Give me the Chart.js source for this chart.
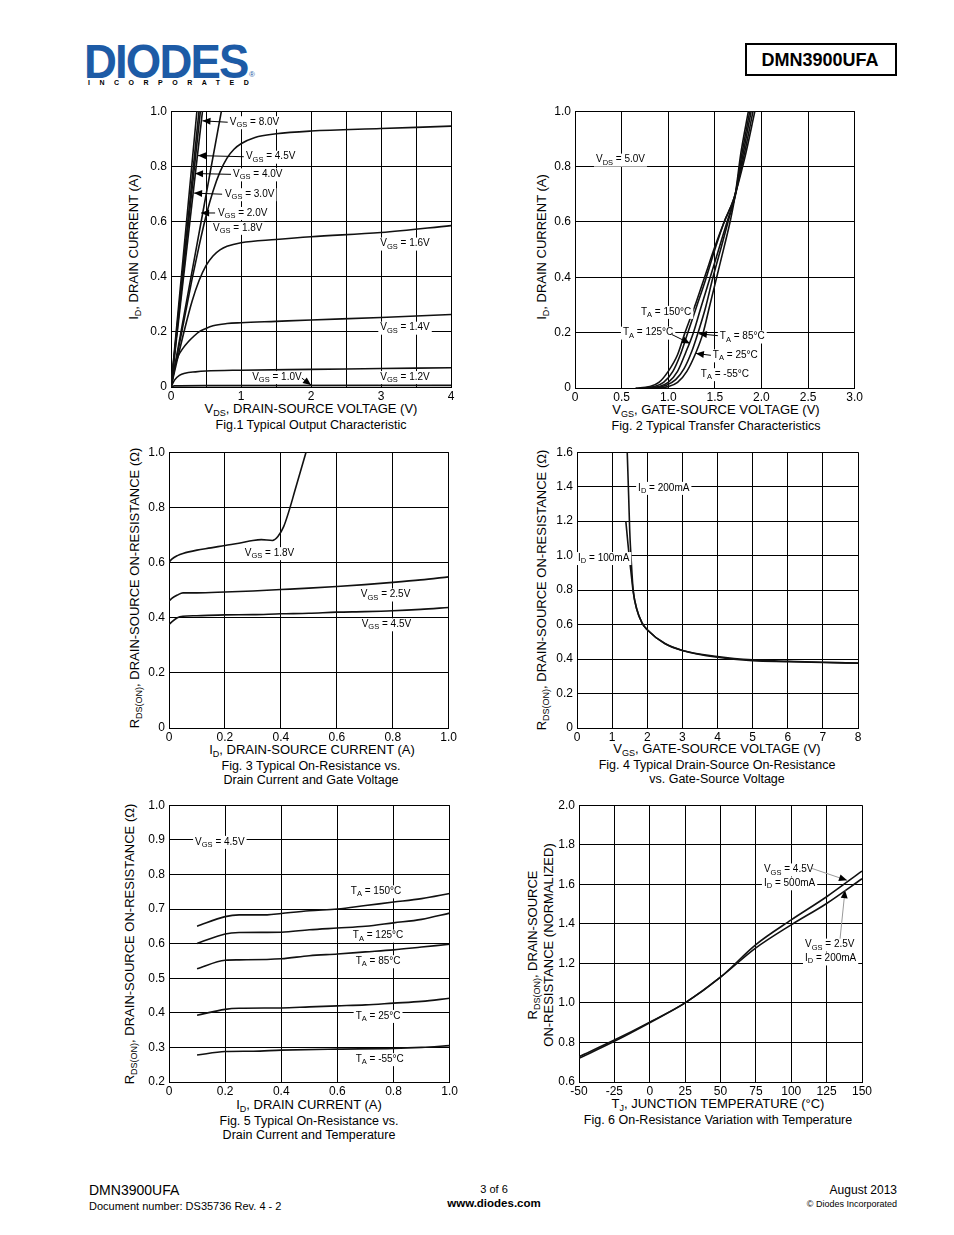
<!DOCTYPE html>
<html>
<head>
<meta charset="utf-8">
<script src="https://cdn.jsdelivr.net/npm/chart.js@4.4.1/dist/chart.umd.min.js"></script>
<style>
  body { margin: 0; background: #fff; font-family: "Liberation Sans", Arial, sans-serif; color: #000; }
  #page { position: relative; width: 954px; height: 1235px; overflow: hidden; }
  .t { position: absolute; white-space: nowrap; line-height: 1; }
  .c { transform: translate(-50%, -50%); }
  .v { transform: translate(-50%, -50%) rotate(-90deg); }
  .l { transform: translateY(-50%); }
  .r { transform: translate(-100%, -50%); }
  .axt { font-size: 13px; }
  .cap { font-size: 12.5px; }
  sub { font-size: 9px; vertical-align: -3px; line-height: 0; }
</style>
</head>
<body>
<div id="page">
  <!-- header -->
  <div class="t" style="left:84px;top:37px;font-size:49px;font-weight:bold;color:#1d5ba6;letter-spacing:-2px;transform:scaleX(0.93);transform-origin:left top;">DIODES</div>
  <div class="t" style="left:88px;top:79px;font-size:7px;font-weight:bold;letter-spacing:9.5px;">INCORPORATED</div>
  <div class="t" style="left:249px;top:71px;font-size:8px;color:#1d5ba6;">®</div>
  <div style="position:absolute;left:745px;top:43px;width:148px;height:29px;border:2px solid #000;"></div>
  <div class="t c" style="left:820px;top:60px;font-size:18px;font-weight:bold;">DMN3900UFA</div>

  <!-- axis titles and captions -->
  <div class="t v axt" style="left:133px;top:247px;">I<sub>D</sub>, DRAIN CURRENT (A)</div>
  <div class="t c axt" style="left:311px;top:408px;">V<sub>DS</sub>, DRAIN-SOURCE VOLTAGE (V)</div>
  <div class="t c cap" style="left:311px;top:425px;">Fig.1 Typical Output Characteristic</div>

  <div class="t v axt" style="left:541px;top:247px;">I<sub>D</sub>, DRAIN CURRENT (A)</div>
  <div class="t c axt" style="left:716px;top:409px;">V<sub>GS</sub>, GATE-SOURCE VOLTAGE (V)</div>
  <div class="t c cap" style="left:716px;top:426px;">Fig. 2 Typical Transfer Characteristics</div>

  <div class="t v axt" style="left:134px;top:588px;">R<sub>DS(ON)</sub>, DRAIN-SOURCE ON-RESISTANCE (Ω)</div>
  <div class="t c axt" style="left:312px;top:749px;">I<sub>D</sub>, DRAIN-SOURCE CURRENT (A)</div>
  <div class="t c cap" style="left:311px;top:766px;">Fig. 3 Typical On-Resistance vs.</div>
  <div class="t c cap" style="left:311px;top:780px;">Drain Current and Gate Voltage</div>

  <div class="t v axt" style="left:541px;top:590px;">R<sub>DS(ON)</sub>, DRAIN-SOURCE ON-RESISTANCE (Ω)</div>
  <div class="t c axt" style="left:717px;top:748px;">V<sub>GS</sub>, GATE-SOURCE VOLTAGE (V)</div>
  <div class="t c cap" style="left:717px;top:765px;">Fig. 4 Typical Drain-Source On-Resistance</div>
  <div class="t c cap" style="left:717px;top:779px;">vs. Gate-Source Voltage</div>

  <div class="t v axt" style="left:129px;top:944px;">R<sub>DS(ON)</sub>, DRAIN-SOURCE ON-RESISTANCE (Ω)</div>
  <div class="t c axt" style="left:309px;top:1104px;">I<sub>D</sub>, DRAIN CURRENT (A)</div>
  <div class="t c cap" style="left:309px;top:1121px;">Fig. 5 Typical On-Resistance vs.</div>
  <div class="t c cap" style="left:309px;top:1135px;">Drain Current and Temperature</div>

  <div class="t v axt" style="left:532px;top:945px;">R<sub>DS(ON)</sub>, DRAIN-SOURCE</div>
  <div class="t v axt" style="left:548px;top:945px;">ON-RESISTANCE (NORMALIZED)</div>
  <div class="t c axt" style="left:718px;top:1103px;">T<sub>J</sub>, JUNCTION TEMPERATURE (°C)</div>
  <div class="t c cap" style="left:718px;top:1120px;">Fig. 6 On-Resistance Variation with Temperature</div>

  <!-- footer -->
  <div class="t l" style="left:89px;top:1190px;font-size:14px;">DMN3900UFA</div>
  <div class="t l" style="left:89px;top:1206px;font-size:11px;">Document number: DS35736 Rev. 4 - 2</div>
  <div class="t c" style="left:494px;top:1189px;font-size:11px;">3 of 6</div>
  <div class="t c" style="left:494px;top:1204px;font-size:11.5px;font-weight:bold;">www.diodes.com</div>
  <div class="t r" style="left:897px;top:1190px;font-size:12px;">August 2013</div>
  <div class="t r" style="left:897px;top:1204px;font-size:9px;">© Diodes Incorporated</div>
</div>

<script>
// ---- Fig.1 output characteristic: [VDS, ID]
const f1Vgs80 = [[0, 0], [0.37, 1.0]];
const f1Vgs45 = [[0, 0], [0.40, 1.0]];
const f1Vgs40 = [[0, 0], [0.42, 1.0]];
const f1Vgs30 = [[0, 0], [0.45, 1.0]];
const f1Vgs20 = [[0, 0], [0.2, 0.28], [0.46, 0.64], [0.72, 1.0]];
const f1Vgs18 = [[0, 0], [0.1, 0.13], [0.2, 0.26], [0.3, 0.39], [0.4, 0.51], [0.5, 0.62], [0.6, 0.71], [0.7, 0.78], [0.8, 0.83], [0.9, 0.862], [1, 0.882], [1.2, 0.905], [1.5, 0.918], [2, 0.928], [3, 0.937], [4, 0.946]];
const f1Vgs16 = [[0, 0], [0.1, 0.11], [0.2, 0.215], [0.3, 0.31], [0.4, 0.385], [0.5, 0.44], [0.6, 0.475], [0.7, 0.497], [0.8, 0.51], [1, 0.523], [1.5, 0.535], [2, 0.545], [3, 0.56], [4, 0.585]];
const f1Vgs14 = [[0, 0], [0.05, 0.07], [0.1, 0.11], [0.17, 0.14], [0.25, 0.165], [0.33, 0.185], [0.4, 0.2], [0.48, 0.21], [0.6, 0.222], [0.8, 0.23], [1, 0.233], [1.5, 0.238], [2, 0.243], [3, 0.252], [4, 0.263]];
const f1Vgs12 = [[0, 0], [0.05, 0.025], [0.12, 0.042], [0.2, 0.05], [0.35, 0.055], [0.5, 0.058], [1, 0.061], [2, 0.064], [3, 0.067], [4, 0.07]];
const f1Vgs10 = [[0, 0], [0.05, 0.004], [0.5, 0.005], [4, 0.006]];

// ---- Fig.2 transfer characteristic: [VGS, ID]
const f2T150 = [[0.65, 0], [0.8, 0.005], [0.9, 0.02], [1.0, 0.06], [1.1, 0.12], [1.18, 0.2], [1.3, 0.31], [1.4, 0.41], [1.5, 0.51], [1.6, 0.6], [1.7, 0.68], [1.82, 0.83], [1.93, 1.0]];
const f2T125 = [[0.7, 0], [0.85, 0.005], [0.95, 0.02], [1.05, 0.06], [1.13, 0.12], [1.21, 0.2], [1.3, 0.29], [1.4, 0.39], [1.5, 0.5], [1.6, 0.6], [1.71, 0.69], [1.81, 0.835], [1.91, 1.0]];
const f2T85 = [[0.75, 0], [0.9, 0.005], [1.0, 0.02], [1.1, 0.06], [1.19, 0.13], [1.27, 0.2], [1.35, 0.29], [1.45, 0.4], [1.55, 0.51], [1.64, 0.61], [1.72, 0.695], [1.8, 0.84], [1.89, 1.0]];
const f2T25 = [[0.85, 0], [0.98, 0.01], [1.08, 0.03], [1.17, 0.07], [1.25, 0.13], [1.32, 0.2], [1.4, 0.29], [1.48, 0.4], [1.57, 0.51], [1.65, 0.61], [1.72, 0.7], [1.79, 0.845], [1.875, 1.0]];
const f2Tm55 = [[0.9, 0], [1.0, 0.005], [1.1, 0.02], [1.2, 0.06], [1.3, 0.13], [1.375, 0.2], [1.44, 0.29], [1.52, 0.4], [1.6, 0.51], [1.67, 0.61], [1.72, 0.7], [1.78, 0.85], [1.86, 1.0]];

// ---- Fig.3 RDS(on) vs ID: [ID, RDS]
const f3Vgs18 = [[0, 0.6], [0.01, 0.612], [0.03, 0.625], [0.05, 0.633], [0.1, 0.645], [0.15, 0.653], [0.2, 0.662], [0.25, 0.67], [0.3, 0.68], [0.33, 0.683], [0.37, 0.68], [0.39, 0.695], [0.41, 0.73], [0.43, 0.79], [0.45, 0.86], [0.47, 0.93], [0.49, 1.0]];
const f3Vgs25 = [[0, 0.46], [0.01, 0.47], [0.03, 0.482], [0.05, 0.49], [0.1, 0.49], [0.2, 0.493], [0.3, 0.497], [0.4, 0.502], [0.5, 0.507], [0.6, 0.513], [0.7, 0.52], [0.8, 0.528], [0.9, 0.537], [1, 0.548]];
const f3Vgs45 = [[0, 0.375], [0.01, 0.385], [0.03, 0.4], [0.05, 0.405], [0.1, 0.407], [0.2, 0.41], [0.3, 0.411], [0.4, 0.414], [0.5, 0.416], [0.6, 0.42], [0.7, 0.422], [0.8, 0.425], [0.9, 0.43], [1, 0.437]];

// ---- Fig.4 RDS(on) vs VGS: [VGS, RDS]
const f4Id200 = [[1.43, 1.6], [1.47, 1.35], [1.5, 1.15], [1.55, 0.95], [1.6, 0.8], [1.7, 0.69], [1.85, 0.61], [2.0, 0.57], [2.5, 0.49], [3.0, 0.45], [4.0, 0.415], [5.0, 0.395], [6.0, 0.387], [7.0, 0.381], [8.0, 0.376]];
const f4Id100 = [[1.39, 1.2], [1.45, 1.07], [1.5, 0.97], [1.55, 0.88], [1.6, 0.79], [1.7, 0.69], [1.85, 0.61], [2.0, 0.57], [2.5, 0.49], [3.0, 0.45], [4.0, 0.41], [5.0, 0.39], [6.0, 0.385], [7.0, 0.38], [8.0, 0.377]];

// ---- Fig.5 RDS(on) vs ID and temperature: [ID, RDS]
const f5T150 = [[0.1, 0.65], [0.2, 0.678], [0.25, 0.683], [0.35, 0.683], [0.4, 0.687], [0.5, 0.695], [0.6, 0.7], [0.7, 0.71], [0.8, 0.72], [0.9, 0.73], [1.0, 0.745]];
const f5T125 = [[0.1, 0.6], [0.2, 0.628], [0.25, 0.632], [0.4, 0.633], [0.5, 0.64], [0.6, 0.645], [0.7, 0.65], [0.8, 0.66], [0.9, 0.67], [1.0, 0.688]];
const f5T85 = [[0.1, 0.527], [0.2, 0.552], [0.25, 0.553], [0.4, 0.556], [0.5, 0.565], [0.6, 0.57], [0.7, 0.576], [0.8, 0.582], [0.9, 0.59], [1.0, 0.598]];
const f5T25 = [[0.1, 0.393], [0.2, 0.41], [0.25, 0.413], [0.4, 0.414], [0.5, 0.417], [0.6, 0.42], [0.7, 0.423], [0.8, 0.428], [0.9, 0.433], [1.0, 0.442]];
const f5Tm55 = [[0.1, 0.278], [0.2, 0.288], [0.3, 0.289], [0.4, 0.292], [0.6, 0.295], [0.8, 0.297], [0.9, 0.3], [1.0, 0.305]];

// ---- Fig.6 normalized RDS(on) vs TJ: [TJ, R]
const f6Vgs45 = [[-50, 0.728], [-25, 0.812], [0, 0.903], [25, 1.0], [50, 1.13], [75, 1.295], [100, 1.42], [125, 1.537], [150, 1.667]];
const f6Vgs25 = [[-50, 0.72], [-25, 0.806], [0, 0.9], [25, 1.0], [50, 1.13], [75, 1.278], [100, 1.395], [125, 1.503], [150, 1.628]];

const FONT = '"Liberation Sans", Arial, sans-serif';
const dec1 = v => (v === 0 ? '0' : v.toFixed(1));
const intOnly = v => (Number.isInteger(v) ? String(v) : '');

// text label with {subscript} parts, white box behind
function drawLabel(ctx, text, x, y) {
  const parts = text.split(/(\{[^}]*\})/).filter(Boolean).map(s =>
    s[0] === '{' ? { s: s.slice(1, -1), sub: true } : { s: s, sub: false });
  let w = 0;
  parts.forEach(p => {
    ctx.font = (p.sub ? '7.5px ' : '10px ') + FONT;
    p.w = ctx.measureText(p.s).width;
    w += p.w;
  });
  ctx.fillStyle = '#fff';
  ctx.fillRect(x - 2, y - 6, w + 4, 13);
  ctx.fillStyle = '#000';
  ctx.textBaseline = 'middle';
  ctx.textAlign = 'left';
  let cx = x;
  parts.forEach(p => {
    ctx.font = (p.sub ? '7.5px ' : '10px ') + FONT;
    ctx.fillText(p.s, cx, p.sub ? y + 3 : y);
    cx += p.w;
  });
}

function drawArrow(ctx, x1, y1, x2, y2, color) {
  ctx.strokeStyle = color || '#000';
  ctx.lineWidth = 1;
  ctx.beginPath();
  ctx.moveTo(x1, y1);
  ctx.lineTo(x2, y2);
  ctx.stroke();
  const a = Math.atan2(y2 - y1, x2 - x1);
  ctx.fillStyle = '#000';
  ctx.beginPath();
  ctx.moveTo(x2, y2);
  ctx.lineTo(x2 - 8 * Math.cos(a) + 3.5 * Math.sin(a), y2 - 8 * Math.sin(a) - 3.5 * Math.cos(a));
  ctx.lineTo(x2 - 8 * Math.cos(a) - 3.5 * Math.sin(a), y2 - 8 * Math.sin(a) + 3.5 * Math.cos(a));
  ctx.closePath();
  ctx.fill();
}

function notesPlugin(items) {
  return {
    id: 'notes',
    afterDatasetsDraw(chart) {
      const ctx = chart.ctx, sx = chart.scales.x, sy = chart.scales.y;
      ctx.save();
      items.forEach(n => drawLabel(ctx, n.t, sx.getPixelForValue(n.x), sy.getPixelForValue(n.y)));
      items.forEach(n => {
        if (n.arrow) {
          drawArrow(ctx, sx.getPixelForValue(n.arrow[0]), sy.getPixelForValue(n.arrow[1]),
            sx.getPixelForValue(n.arrow[2]), sy.getPixelForValue(n.arrow[3]), n.color);
        }
      });
      ctx.restore();
    }
  };
}

function axis(a, fit) {
  return {
    type: 'linear', min: a.min, max: a.max,
    afterFit: fit,
    ticks: { stepSize: a.step, autoSkip: false, maxRotation: 0, padding: a.pad, color: '#000',
      font: { size: 12, family: FONT }, callback: a.fmt },
    grid: { color: '#000', lineWidth: 1, drawTicks: false },
    border: { color: '#000', width: 1 }
  };
}

// f = canvas frame on page, p = plot rect [left, top, right, bottom]
function plot(f, p, xa, ya, lines, notes) {
  const wrap = document.createElement('div');
  wrap.style.cssText = `position:absolute;left:${f[0]}px;top:${f[1]}px;width:${f[2]}px;height:${f[3]}px`;
  const cv = document.createElement('canvas');
  cv.width = f[2];
  cv.height = f[3];
  wrap.appendChild(cv);
  document.getElementById('page').appendChild(wrap);
  new Chart(cv, {
    type: 'line',
    data: {
      datasets: lines.map(pts => ({
        data: pts.map(q => ({ x: q[0], y: q[1] })),
        borderColor: '#111', borderWidth: 1.6, pointRadius: 0,
        cubicInterpolationMode: 'monotone', fill: false
      }))
    },
    options: {
      responsive: false, animation: false, events: [],
      layout: { padding: { left: 0, top: p[1] - f[1], right: f[0] + f[2] - p[2], bottom: 0 } },
      plugins: { legend: { display: false }, tooltip: { enabled: false } },
      scales: {
        x: axis(Object.assign({ pad: 2 }, xa), s => { s.height = f[1] + f[3] - p[3]; }),
        y: axis(Object.assign({ pad: 4 }, ya), s => { s.width = p[0] - f[0]; })
      }
    },
    plugins: [notesPlugin(notes)]
  });
}

// Fig.1
plot([140, 100, 320, 305], [171, 108, 451, 387],
  { min: 0, max: 4, step: 0.5, fmt: intOnly },
  { min: 0, max: 1, step: 0.2, fmt: dec1 },
  [f1Vgs80, f1Vgs45, f1Vgs40, f1Vgs30, f1Vgs20, f1Vgs18, f1Vgs16, f1Vgs14, f1Vgs12, f1Vgs10],
  [
    { t: 'V{GS} = 8.0V', x: 0.84, y: 0.96, arrow: [0.81, 0.96, 0.45, 0.965] },
    { t: 'V{GS} = 4.5V', x: 1.07, y: 0.835, arrow: [1.04, 0.835, 0.386, 0.839] },
    { t: 'V{GS} = 4.0V', x: 0.886, y: 0.771, arrow: [0.857, 0.771, 0.343, 0.774] },
    { t: 'V{GS} = 3.0V', x: 0.77, y: 0.699, arrow: [0.73, 0.699, 0.33, 0.703] },
    { t: 'V{GS} = 2.0V', x: 0.67, y: 0.631, arrow: [0.63, 0.631, 0.43, 0.631] },
    { t: 'V{GS} = 1.8V', x: 0.6, y: 0.577 },
    { t: 'V{GS} = 1.6V', x: 2.99, y: 0.52 },
    { t: 'V{GS} = 1.4V', x: 2.99, y: 0.215 },
    { t: 'V{GS} = 1.0V', x: 1.16, y: 0.036, arrow: [1.87, 0.032, 2.0, 0.007] },
    { t: 'V{GS} = 1.2V', x: 2.99, y: 0.036 }
  ]);

// Fig.2
plot([545, 100, 320, 305], [575, 108, 855, 388],
  { min: 0, max: 3, step: 0.5, fmt: dec1 },
  { min: 0, max: 1, step: 0.2, fmt: dec1 },
  [f2T150, f2T125, f2T85, f2T25, f2Tm55],
  [
    { t: 'V{DS} = 5.0V', x: 0.225, y: 0.825 },
    { t: 'T{A} = 150°C', x: 0.707, y: 0.275 },
    { t: 'T{A} = 125°C', x: 0.514, y: 0.2, arrow: [1.04, 0.193, 1.233, 0.161] },
    { t: 'T{A} = 85°C', x: 1.554, y: 0.186, arrow: [1.533, 0.189, 1.329, 0.196] },
    { t: 'T{A} = 25°C', x: 1.479, y: 0.118, arrow: [1.458, 0.118, 1.297, 0.125] },
    { t: 'T{A} = -55°C', x: 1.35, y: 0.05 }
  ]);

// Fig.3
plot([138, 441, 321, 305], [169, 449, 449, 728],
  { min: 0, max: 1, step: 0.2, fmt: dec1 },
  { min: 0, max: 1, step: 0.2, fmt: dec1 },
  [f3Vgs18, f3Vgs25, f3Vgs45],
  [
    { t: 'V{GS} = 1.8V', x: 0.271, y: 0.634 },
    { t: 'V{GS} = 2.5V', x: 0.686, y: 0.484 },
    { t: 'V{GS} = 4.5V', x: 0.689, y: 0.376 }
  ]);

// Fig.4
plot([546, 441, 322, 305], [577, 449, 858, 728],
  { min: 0, max: 8, step: 1, fmt: v => String(v) },
  { min: 0, max: 1.6, step: 0.2, fmt: dec1 },
  [f4Id200, f4Id100],
  [
    { t: 'I{D} = 200mA', x: 1.74, y: 1.393 },
    { t: 'I{D} = 100mA', x: 0.03, y: 0.986 }
  ]);

// Fig.5
plot([138, 794, 322, 305], [169, 802, 450, 1082],
  { min: 0, max: 1, step: 0.2, fmt: dec1 },
  { min: 0.2, max: 1.0, step: 0.1, fmt: v => v.toFixed(1) },
  [f5T150, f5T125, f5T85, f5T25, f5Tm55],
  [
    { t: 'V{GS} = 4.5V', x: 0.093, y: 0.894 },
    { t: 'T{A} = 150°C', x: 0.648, y: 0.751 },
    { t: 'T{A} = 125°C', x: 0.655, y: 0.623 },
    { t: 'T{A} = 85°C', x: 0.665, y: 0.549 },
    { t: 'T{A} = 25°C', x: 0.665, y: 0.391 },
    { t: 'T{A} = -55°C', x: 0.665, y: 0.266 }
  ]);

// Fig.6
plot([548, 794, 332, 305], [579, 802, 862, 1082],
  { min: -50, max: 150, step: 25, fmt: v => String(v) },
  { min: 0.6, max: 2.0, step: 0.2, fmt: v => v.toFixed(1) },
  [f6Vgs45, f6Vgs25],
  [
    { t: 'V{GS} = 4.5V', x: 80.7, y: 1.675 },
    { t: 'I{D} = 500mA', x: 80.7, y: 1.605, arrow: [114.7, 1.68, 139.4, 1.62], color: '#999' },
    { t: 'V{GS} = 2.5V', x: 109.7, y: 1.295 },
    { t: 'I{D} = 200mA', x: 109.7, y: 1.225, arrow: [134.5, 1.325, 138, 1.57], color: '#999' }
  ]);
</script>
</body>
</html>
